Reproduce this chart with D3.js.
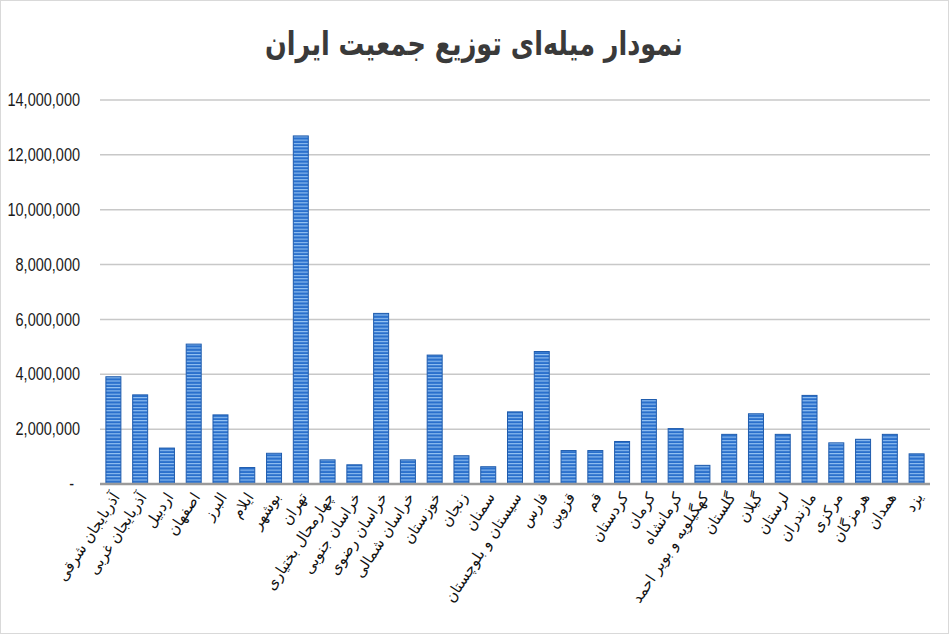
<!DOCTYPE html>
<html>
<head>
<meta charset="utf-8">
<script src="https://cdn.jsdelivr.net/npm/d3@7"></script>
<style>
  body { margin: 0; background: #fff; }
  svg { display: block; }
</style>
</head>
<body>
<svg id="chart" width="950" height="634"></svg>
<script>
const provinces = [
  "آذربایجان شرقی", "آذربایجان غربی", "اردبیل", "اصفهان", "البرز", "ایلام", "بوشهر", "تهران",
  "چهارمحال بختیاری", "خراسان جنوبی", "خراسان رضوی", "خراسان شمالی", "خوزستان", "زنجان", "سمنان",
  "سیستان و بلوچستان", "فارس", "قزوین", "قم", "کردستان", "کرمان", "کرمانشاه", "کهگیلویه و بویر احمد",
  "گلستان", "گیلان", "لرستان", "مازندران", "مرکزی", "هرمزگان", "همدان", "یزد"
];
const population = [
  3910000, 3250000, 1310000, 5100000, 2520000, 600000, 1120000, 12690000,
  880000, 700000, 6220000, 880000, 4700000, 1030000, 630000,
  2630000, 4830000, 1220000, 1220000, 1550000, 3080000, 2020000, 680000,
  1810000, 2560000, 1810000, 3230000, 1500000, 1630000, 1810000, 1100000
];
const yTicks = [0, 2000000, 4000000, 6000000, 8000000, 10000000, 12000000, 14000000];
const title = "نمودار میله‌ای توزیع جمعیت ایران";

const svg = d3.select("#chart");
const margin = { top: 100, right: 20, bottom: 150, left: 100 };
const width = 950 - margin.left - margin.right;
const height = 634 - margin.top - margin.bottom;

// striped bar fill
const defs = svg.append("defs");
const pat = defs.append("pattern")
  .attr("id", "stripes")
  .attr("patternUnits", "userSpaceOnUse")
  .attr("width", 10)
  .attr("height", 3.3);
pat.append("rect").attr("width", 10).attr("height", 3.3).attr("fill", "#2a70cc");
pat.append("rect").attr("y", 0).attr("width", 10).attr("height", 1.1).attr("fill", "#94c2f2");

svg.append("rect")
  .attr("x", 0.5).attr("y", 0.5)
  .attr("width", 948).attr("height", 633)
  .attr("fill", "none")
  .attr("stroke", "#d9d9d9");

// title, stretched a little vertically like the source
svg.append("text")
  .attr("transform", "translate(474,55) scale(1,1.3)")
  .attr("text-anchor", "middle")
  .attr("font-family", "DejaVu Sans")
  .attr("font-weight", "bold")
  .attr("font-size", 25.5)
  .attr("fill", "#3a3a3a")
  .text(title);

const g = svg.append("g")
  .attr("transform", `translate(${margin.left},${margin.top})`);

const x = d3.scaleBand()
  .domain(provinces)
  .range([0, width])
  .paddingInner(0.44)
  .paddingOuter(0.22);

const y = d3.scaleLinear()
  .domain([0, 14000000])
  .range([height, 0]);

// gridlines
g.append("g")
  .selectAll("line")
  .data(yTicks.filter(d => d > 0))
  .join("line")
  .attr("x1", 0)
  .attr("x2", width)
  .attr("y1", d => y(d))
  .attr("y2", d => y(d))
  .attr("stroke", "#c8c8c8")
  .attr("stroke-width", 1.5);

// y axis labels
const yAxis = g.append("g")
  .call(d3.axisLeft(y)
    .tickValues(yTicks)
    .tickSize(0)
    .tickPadding(20)
    .tickFormat(d => d === 0 ? "-" : d3.format(",")(d)));
yAxis.select(".domain").remove();
yAxis.selectAll("text")
  .attr("font-family", "'Liberation Sans Narrow', 'Liberation Sans', sans-serif")
  .attr("font-size", 14.5)
  .attr("fill", "#1a1a1a")
  .attr("dy", "0.3em")
  .attr("transform", "scale(1,1.3)")
  .attr("dx", d => d === 0 ? -6 : 0);

// bars
g.append("g")
  .selectAll("rect")
  .data(provinces)
  .join("rect")
  .attr("x", (d) => x(d))
  .attr("y", (d, i) => y(population[i]))
  .attr("width", x.bandwidth())
  .attr("height", (d, i) => height - y(population[i]))
  .attr("fill", "url(#stripes)")
  .attr("stroke", "#1f5cad")
  .attr("stroke-width", 1);

// baseline
g.append("line")
  .attr("x1", 0)
  .attr("x2", width)
  .attr("y1", height)
  .attr("y2", height)
  .attr("stroke", "#9a9a9a")
  .attr("stroke-width", 2.5);

// x labels
g.append("g")
  .selectAll("text")
  .data(provinces)
  .join("text")
  .attr("transform", d => `translate(${x(d) + x.bandwidth() / 2 + 7},${height + 13}) rotate(-57)`)
  .attr("text-anchor", "end")
  .attr("font-family", "DejaVu Sans")
  .attr("font-size", 15)
  .attr("fill", "#111")
  .text(d => d);
</script>
</body>
</html>
